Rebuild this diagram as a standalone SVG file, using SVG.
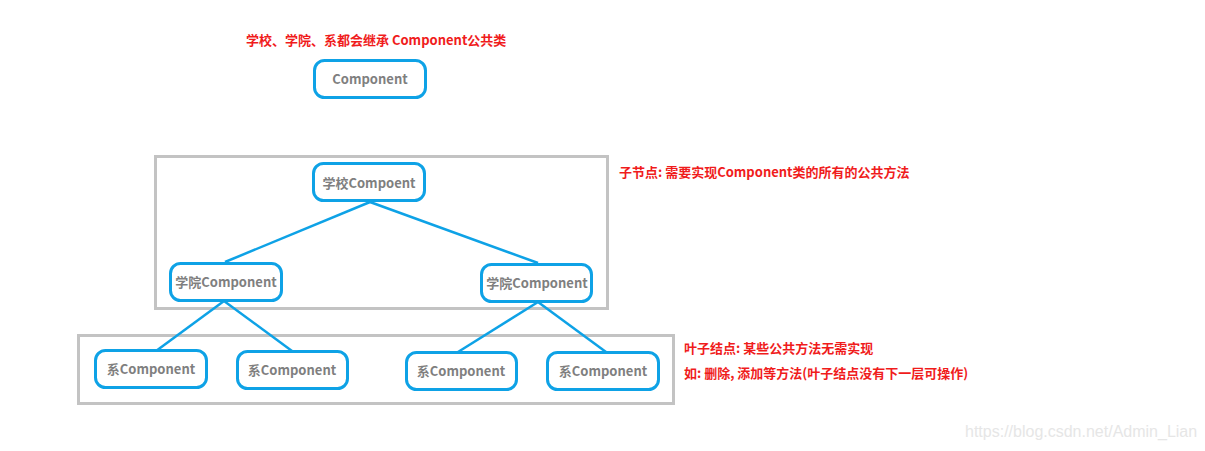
<svg xmlns="http://www.w3.org/2000/svg" width="1205" height="451" viewBox="0 0 1205 451">
<style>
.frame{fill:none;stroke:#c3c3c3;stroke-width:3}
.node rect{fill:#fff;stroke:#0ea2e6;stroke-width:3}
.node text{font-family:"Noto Sans CJK SC","Liberation Sans",sans-serif;font-weight:bold;font-size:13px;fill:#7f7f7f;text-anchor:middle}
.note{font-family:"Noto Sans CJK SC","Liberation Sans",sans-serif;font-weight:bold;font-size:13px;fill:#f01c1c}
.conn line{stroke:#0ea2e6;stroke-width:2.5}
</style>
<rect width="1205" height="451" fill="#fff"/>
<rect class="frame" x="155.5" y="156.5" width="452" height="152"/>
<rect class="frame" x="78.5" y="335.5" width="595" height="68"/>
<g id="connectors" class="conn">
<line x1="370" y1="202" x2="225" y2="262"/>
<line x1="370" y1="202" x2="538" y2="263"/>
<line x1="224" y1="301" x2="156" y2="351"/>
<line x1="224" y1="301" x2="292" y2="351"/>
<line x1="538" y1="302" x2="458" y2="352"/>
<line x1="538" y1="302" x2="606" y2="352"/>
</g>
<text class="note" x="246" y="45">学校、学院、系都会继承 Component公共类</text>
<g id="component" class="node"><rect x="314.5" y="60.5" width="111" height="37" rx="10"/><text x="370" y="84">Component</text></g>
<g id="school" class="node"><rect x="313.5" y="163.5" width="111" height="37" rx="10"/><text x="369" y="188">学校Compoent</text></g>
<g id="college1" class="node"><rect x="170.5" y="263.5" width="111" height="37" rx="10"/><text x="226" y="287">学院Component</text></g>
<g id="college2" class="node"><rect x="481.5" y="264.5" width="110" height="37" rx="10"/><text x="537" y="288">学院Component</text></g>
<g id="dept1" class="node"><rect x="95.5" y="350.5" width="111" height="37" rx="10"/><text x="151" y="374">系Component</text></g>
<g id="dept2" class="node"><rect x="237.5" y="351.5" width="110" height="37" rx="10"/><text x="292" y="375">系Component</text></g>
<g id="dept3" class="node"><rect x="406.5" y="352.5" width="110" height="37" rx="10"/><text x="461" y="376">系Component</text></g>
<g id="dept4" class="node"><rect x="547.5" y="352.5" width="111" height="37" rx="10"/><text x="603" y="376">系Component</text></g>
<text class="note" x="619" y="177">子节点: 需要实现Component类的所有的公共方法</text>
<text class="note" x="684" y="353">叶子结点: 某些公共方法无需实现</text>
<text class="note" x="684" y="378">如: 删除, 添加等方法(叶子结点没有下一层可操作)</text>
<text x="965" y="437" font-family="Liberation Sans, sans-serif" font-size="16" fill="#e6e6e6">https://blog.csdn.net/Admin_Lian</text>
</svg>
